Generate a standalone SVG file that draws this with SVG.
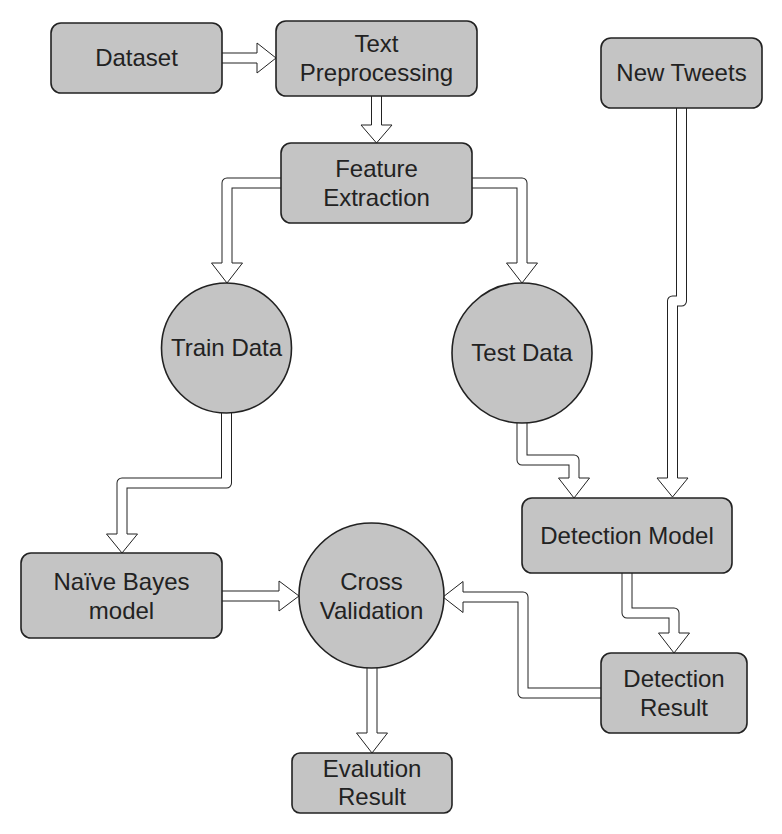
<svg xmlns="http://www.w3.org/2000/svg" width="782" height="834" viewBox="0 0 782 834">
<style>
.n{fill:#c4c4c4;stroke:#222;stroke-width:1.6}
.t{font-family:"Liberation Sans",Arial,sans-serif;font-size:24px;fill:#222;text-anchor:middle}
.so{fill:none;stroke:#222;stroke-width:11;stroke-linejoin:round}
.si{fill:none;stroke:#fff;stroke-width:9;stroke-linejoin:round}
.h{fill:#fff;stroke:#222;stroke-width:1;stroke-linejoin:miter}
</style>
<rect width="782" height="834" fill="#fff"/>
<g id="connectors">
<g id="e1"><path class="so" d="M222,58 H257"/><path class="si" d="M222,58 H257"/><path class="h" d="M257,53 V43 L276,58 L257,73 V63"/></g>
<g id="e2"><path class="so" d="M376.5,96 V125"/><path class="si" d="M376.5,96 V125"/><path class="h" d="M371.5,125 H361 L376.5,143 L392,125 H381.5"/></g>
<g id="e3"><path class="so" d="M281,183 H227 V263"/><path class="si" d="M281,183 H227 V263"/><path class="h" d="M222,263 H211.5 L227,283 L242.5,263 H232"/></g>
<g id="e4"><path class="so" d="M472,183 H522 V263"/><path class="si" d="M472,183 H522 V263"/><path class="h" d="M517,263 H506.5 L522,283 L537.5,263 H527"/></g>
<g id="e5"><path class="so" d="M226.5,413 V483 H122 V534"/><path class="si" d="M226.5,413 V483 H122 V534"/><path class="h" d="M117,534 H106.5 L122,553 L137.5,534 H127"/></g>
<g id="e6"><path class="so" d="M522,423 V460 H574 V478"/><path class="si" d="M522,423 V460 H574 V478"/><path class="h" d="M569,478 H558.5 L574,498 L589.5,478 H579"/></g>
<g id="e7"><path class="so" d="M681.5,108 V301 H672.5 V478"/><path class="si" d="M681.5,108 V301 H672.5 V478"/><path class="h" d="M667.5,478 H657 L672.5,497 L688,478 H677.5"/></g>
<g id="e8"><path class="so" d="M627,573 V613 H674 V633"/><path class="si" d="M627,573 V613 H674 V633"/><path class="h" d="M669,633 H658.5 L674,653 L689.5,633 H679"/></g>
<g id="e9"><path class="so" d="M601,693 H523 V597 H463"/><path class="si" d="M601,693 H523 V597 H463"/><path class="h" d="M463,592 V581.5 L443,597 L463,612.5 V602"/></g>
<g id="e10"><path class="so" d="M222,596 H279"/><path class="si" d="M222,596 H279"/><path class="h" d="M279,591 V581 L299,596 L279,611 V601"/></g>
<g id="e11"><path class="so" d="M372,668 V733"/><path class="si" d="M372,668 V733"/><path class="h" d="M367,733 H356.5 L372,753 L387.5,733 H377"/></g>
</g>
<g id="dataset"><rect class="n" x="51" y="23" width="171" height="70" rx="10"/><text class="t" x="136.5" y="66">Dataset</text></g>
<g id="text-preprocessing"><rect class="n" x="276" y="21" width="201" height="75" rx="10"/><text class="t" x="376.5" y="52">Text</text><text class="t" x="376.5" y="81">Preprocessing</text></g>
<g id="feature-extraction"><rect class="n" x="281" y="143" width="191" height="80" rx="10"/><text class="t" x="376.5" y="177">Feature</text><text class="t" x="376.5" y="206">Extraction</text></g>
<g id="new-tweets"><rect class="n" x="601" y="38" width="161" height="70" rx="10"/><text class="t" x="681.5" y="81">New Tweets</text></g>
<g id="train-data"><circle class="n" cx="226.5" cy="348" r="65"/><text class="t" x="226.5" y="356">Train Data</text></g>
<g id="test-data"><circle class="n" cx="522" cy="353" r="70"/><text class="t" x="522" y="361">Test Data</text></g>
<g id="detection-model"><rect class="n" x="522" y="498" width="210" height="75" rx="10"/><text class="t" x="627" y="544">Detection Model</text></g>
<g id="naive-bayes"><rect class="n" x="21" y="553" width="201" height="85" rx="10"/><text class="t" x="121.5" y="590">Naïve Bayes</text><text class="t" x="121.5" y="619">model</text></g>
<g id="cross-validation"><circle class="n" cx="371.5" cy="595.5" r="72.5"/><text class="t" x="371.5" y="590">Cross</text><text class="t" x="371.5" y="619">Validation</text></g>
<g id="detection-result"><rect class="n" x="601" y="653" width="146" height="80" rx="10"/><text class="t" x="674" y="687">Detection</text><text class="t" x="674" y="716">Result</text></g>
<g id="evalution-result"><rect class="n" x="292" y="753" width="160" height="60" rx="8"/><text class="t" x="372" y="777">Evalution</text><text class="t" x="372" y="805">Result</text></g>
</svg>
